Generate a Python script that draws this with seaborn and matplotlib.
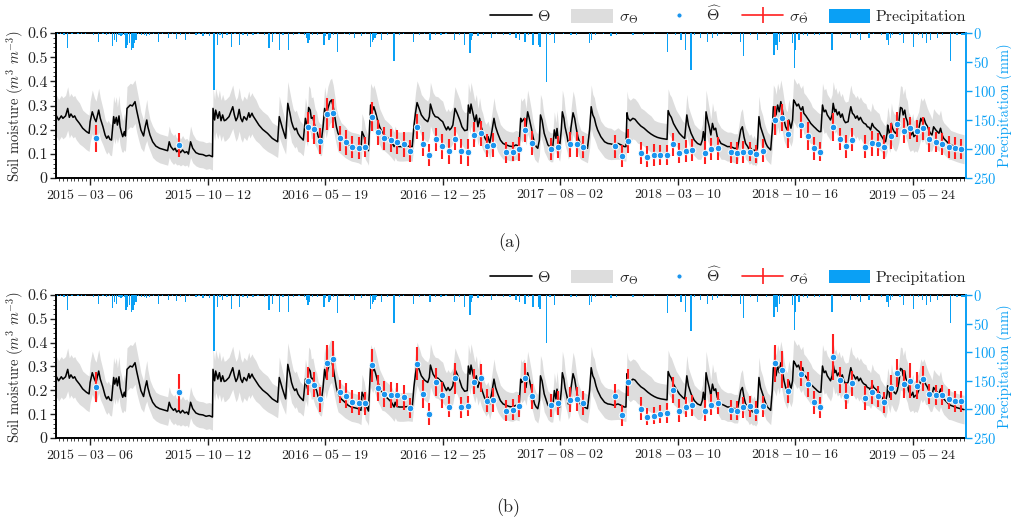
import numpy as np
import pandas as pd
import matplotlib
matplotlib.use("Agg")
import matplotlib.pyplot as plt
import seaborn as sns
from matplotlib.ticker import AutoMinorLocator, FixedLocator, FixedFormatter
from matplotlib.patches import Patch
from matplotlib.lines import Line2D
from matplotlib.mathtext import MathTextParser

# ---------------- data (days counted from 2015-01-01) ----------------
start_date = "2015-01-01"
x_limits = ["2015-01-01", "2019-08-31"]
tick_dates = ["2015-03-06", "2015-10-12", "2016-05-19", "2016-12-25",
              "2017-08-02", "2018-03-10", "2018-10-16", "2019-05-24"]
sm_ticks = [0, 0.1, 0.2, 0.3, 0.4, 0.5, 0.6]
sm_ticklabels = ["0", "0.1", "0.2", "0.3", "0.4", "0.5", "0.6"]
rain_ticks = [0, 50, 100, 150, 200, 250]

# modelled soil moisture (Theta) and its uncertainty band (sigma)
theta_day = [
    0, 5, 10, 13, 18, 22, 25, 28, 32, 35,
    38, 44, 50, 57, 62, 64, 68, 72, 75, 80,
    83, 88, 92, 95, 98, 101, 104, 108, 110, 113,
    115, 118, 120, 123, 125, 128, 130, 133, 136, 139,
    143, 146, 148, 151, 155, 159, 164, 167, 170, 172,
    176, 181, 187, 194, 200, 209, 212, 215, 220, 223,
    226, 230, 233, 237, 241, 245, 248, 252, 256, 262,
    268, 275, 281, 287, 293, 294, 297, 299, 303, 306,
    309, 312, 315, 318, 324, 331, 334, 337, 340, 343,
    346, 349, 352, 357, 361, 363, 367, 369, 374, 380,
    387, 396, 405, 415, 418, 424, 430, 434, 438, 441,
    444, 447, 450, 453, 457, 460, 463, 467, 471, 473,
    476, 478, 481, 485, 488, 491, 494, 497, 500, 503,
    506, 509, 513, 516, 519, 522, 525, 528, 534, 541,
    547, 553, 559, 566, 571, 573, 577, 579, 583, 585,
    589, 593, 595, 598, 602, 606, 610, 615, 622, 628,
    633, 635, 638, 643, 650, 659, 667, 670, 673, 676,
    681, 684, 690, 696, 699, 701, 706, 710, 715, 720,
    724, 728, 731, 734, 737, 740, 743, 747, 751, 756,
    760, 765, 770, 772, 775, 777, 780, 784, 787, 790,
    793, 796, 799, 802, 805, 809, 812, 816, 820, 823,
    827, 832, 837, 843, 849, 855, 861, 867, 870, 872,
    877, 880, 883, 886, 890, 893, 896, 899, 902, 905,
    907, 910, 912, 914, 918, 921, 926, 930, 933, 936,
    938, 941, 943, 946, 948, 951, 953, 957, 959, 962,
    964, 968, 971, 974, 977, 980, 983, 989, 995, 999,
    1002, 1005, 1008, 1011, 1014, 1020, 1027, 1033, 1039, 1045,
    1052, 1058, 1064, 1067, 1069, 1071, 1075, 1080, 1084, 1089,
    1095, 1101, 1108, 1114, 1120, 1126, 1133, 1139, 1144, 1146,
    1149, 1152, 1156, 1161, 1167, 1173, 1177, 1181, 1184, 1189,
    1195, 1201, 1207, 1210, 1212, 1215, 1217, 1220, 1223, 1226,
    1229, 1232, 1235, 1238, 1245, 1251, 1257, 1263, 1270, 1276,
    1282, 1285, 1288, 1291, 1295, 1298, 1301, 1304, 1307, 1310,
    1313, 1316, 1319, 1323, 1326, 1329, 1332, 1335, 1338, 1341,
    1343, 1346, 1348, 1351, 1354, 1357, 1360, 1363, 1366, 1369,
    1372, 1376, 1379, 1381, 1383, 1387, 1390, 1393, 1395, 1398,
    1400, 1404, 1407, 1410, 1413, 1416, 1419, 1422, 1425, 1429,
    1432, 1435, 1438, 1441, 1444, 1447, 1450, 1453, 1455, 1458,
    1460, 1463, 1466, 1469, 1472, 1475, 1478, 1483, 1485, 1488,
    1491, 1494, 1497, 1500, 1503, 1506, 1510, 1513, 1516, 1519,
    1522, 1525, 1528, 1531, 1534, 1537, 1541, 1544, 1547, 1550,
    1553, 1556, 1557, 1559, 1561, 1564, 1566, 1569, 1572, 1575,
    1578, 1581, 1584, 1586, 1589, 1591, 1594, 1596, 1599, 1601,
    1604, 1606, 1609, 1612, 1615, 1619, 1622, 1625, 1628, 1631,
    1634, 1637, 1640, 1643, 1647, 1650, 1653, 1656, 1659, 1662,
    1665, 1668, 1671, 1675, 1681, 1687, 1693, 1700]

theta_val = [
    .261, .240, .257, .247, .257, .288, .251, .265, .251, .257,
    .243, .226, .206, .192, .185, .233, .274, .247, .233, .281,
    .247, .212, .178, .164, .174, .160, .157, .254, .226, .251,
    .219, .257, .212, .185, .171, .192, .174, .288, .295, .302,
    .298, .309, .316, .281, .240, .199, .174, .212, .240, .212,
    .178, .150, .132, .123, .119, .113, .150, .130, .116, .123,
    .109, .116, .105, .116, .105, .109, .099, .150, .123, .105,
    .099, .097, .091, .094, .088, .288, .240, .281, .247, .274,
    .237, .261, .237, .240, .254, .295, .261, .237, .251, .284,
    .247, .233, .254, .240, .270, .251, .268, .257, .240, .219,
    .201, .185, .164, .150, .254, .206, .164, .309, .268, .233,
    .212, .199, .206, .185, .171, .164, .157, .247, .206, .292,
    .281, .247, .251, .212, .199, .171, .160, .157, .212, .288,
    .251, .288, .316, .323, .295, .254, .212, .185, .164, .150,
    .137, .130, .127, .123, .116, .192, .171, .143, .123, .113,
    .302, .281, .295, .274, .240, .212, .192, .178, .164, .150,
    .130, .150, .132, .130, .130, .132, .130, .212, .268, .312,
    .281, .261, .243, .233, .254, .306, .268, .254, .251, .240,
    .233, .212, .199, .212, .199, .206, .219, .288, .268, .240,
    .212, .196, .199, .302, .268, .306, .274, .233, .261, .212,
    .247, .212, .192, .171, .157, .171, .143, .192, .247, .212,
    .185, .157, .143, .137, .132, .130, .137, .132, .247, .233,
    .247, .212, .274, .247, .206, .171, .143, .130, .123, .157,
    .261, .240, .212, .185, .157, .137, .127, .127, .199, .164,
    .205, .143, .130, .199, .274, .247, .212, .171, .143, .157,
    .206, .270, .247, .206, .171, .150, .137, .130, .123, .199,
    .295, .261, .247, .219, .199, .171, .150, .143, .141, .137,
    .143, .137, .130, .130, .270, .247, .237, .247, .243, .229,
    .215, .206, .192, .182, .174, .168, .164, .162, .160, .279,
    .261, .251, .226, .206, .185, .171, .164, .261, .219, .185,
    .157, .143, .137, .157, .192, .150, .274, .240, .212, .178,
    .226, .199, .206, .171, .143, .137, .130, .130, .123, .123,
    .199, .212, .171, .143, .130, .116, .123, .109, .116, .105,
    .123, .254, .212, .185, .164, .143, .130, .123, .116, .199,
    .295, .281, .261, .302, .274, .316, .281, .240, .212, .199,
    .240, .206, .240, .323, .316, .298, .306, .288, .281, .295,
    .268, .257, .247, .237, .226, .219, .212, .206, .199, .192,
    .192, .302, .274, .281, .261, .251, .240, .261, .309, .274,
    .284, .261, .274, .251, .265, .240, .229, .233, .261, .295,
    .268, .261, .247, .257, .240, .251, .233, .226, .223, .212,
    .210, .199, .226, .212, .206, .199, .192, .178, .168, .157,
    .150, .185, .219, .199, .171, .226, .206, .192, .185, .199,
    .233, .292, .288, .261, .281, .251, .233, .199, .185, .178,
    .192, .171, .178, .182, .199, .247, .233, .247, .226, .215,
    .199, .185, .178, .212, .199, .192, .185, .206, .178, .164,
    .157, .150, .143, .137, .132, .127, .123, .119]

theta_sigma = [
    .085, .085, .085, .085, .085, .09, .085, .085, .085, .085,
    .085, .085, .075, .075, .075, .085, .09, .085, .085, .09,
    .085, .075, .065, .065, .065, .065, .065, .085, .085, .085,
    .075, .085, .075, .075, .065, .075, .065, .09, .09, .09,
    .09, .09, .09, .09, .085, .075, .065, .075, .085, .075,
    .065, .065, .06, .06, .06, .06, .065, .06, .06, .06,
    .055, .06, .055, .06, .055, .055, .055, .065, .06, .055,
    .055, .055, .055, .055, .055, .09, .085, .09, .085, .09,
    .085, .085, .085, .085, .085, .09, .085, .085, .085, .09,
    .085, .085, .085, .085, .09, .085, .085, .085, .085, .075,
    .075, .075, .065, .065, .085, .075, .065, .09, .085, .085,
    .075, .075, .075, .075, .065, .065, .065, .085, .075, .09,
    .09, .085, .085, .075, .075, .065, .065, .065, .075, .09,
    .085, .09, .09, .09, .09, .085, .075, .075, .065, .065,
    .06, .06, .06, .06, .06, .075, .065, .065, .06, .06,
    .09, .09, .09, .09, .085, .075, .075, .065, .065, .065,
    .06, .065, .06, .06, .06, .06, .06, .075, .085, .09,
    .09, .085, .085, .085, .085, .09, .085, .085, .085, .085,
    .085, .075, .075, .075, .075, .075, .075, .09, .085, .085,
    .075, .075, .075, .09, .085, .09, .09, .085, .085, .075,
    .085, .075, .075, .065, .065, .065, .065, .075, .085, .075,
    .075, .065, .065, .06, .06, .06, .06, .06, .085, .085,
    .085, .075, .09, .085, .075, .065, .065, .06, .06, .065,
    .085, .085, .075, .075, .065, .06, .06, .06, .075, .065,
    .075, .065, .06, .075, .09, .085, .075, .065, .065, .065,
    .075, .09, .085, .075, .065, .065, .06, .06, .06, .075,
    .09, .085, .085, .075, .075, .065, .065, .065, .065, .06,
    .065, .06, .06, .06, .09, .085, .085, .085, .085, .085,
    .075, .075, .075, .075, .065, .065, .065, .065, .065, .09,
    .085, .085, .085, .075, .075, .065, .065, .085, .075, .075,
    .065, .065, .06, .065, .075, .065, .09, .085, .075, .065,
    .085, .075, .075, .065, .065, .06, .06, .06, .06, .06,
    .075, .075, .065, .065, .06, .06, .06, .055, .06, .055,
    .06, .085, .075, .075, .065, .065, .06, .06, .06, .075,
    .09, .09, .085, .09, .09, .09, .09, .085, .075, .075,
    .085, .075, .085, .09, .09, .09, .09, .09, .09, .09,
    .085, .085, .085, .085, .085, .075, .075, .075, .075, .075,
    .075, .09, .09, .09, .085, .085, .085, .085, .09, .09,
    .09, .085, .09, .085, .085, .085, .085, .085, .085, .09,
    .085, .085, .085, .085, .085, .085, .085, .085, .085, .075,
    .075, .075, .085, .075, .075, .075, .075, .065, .065, .065,
    .065, .075, .075, .075, .065, .085, .075, .075, .075, .075,
    .085, .09, .09, .085, .09, .085, .085, .075, .075, .065,
    .075, .065, .065, .075, .075, .085, .085, .085, .085, .075,
    .075, .075, .065, .075, .075, .075, .075, .075, .065, .065,
    .065, .065, .065, .06, .06, .06, .06, .06]

# retrieved soil moisture (Theta hat), 12-day acquisitions
obs_day = [
    75, 231, 471, 483, 495, 507, 519, 531, 543, 555,
    567, 579, 591, 603, 615, 627, 639, 651, 663, 675,
    687, 699, 711, 723, 735, 747, 759, 771, 783, 795,
    807, 819, 843, 855, 867, 879, 891, 927, 939, 963,
    975, 987, 1047, 1059, 1071, 1095, 1107, 1119, 1131, 1143,
    1155, 1167, 1179, 1191, 1215, 1227, 1239, 1263, 1275, 1287,
    1299, 1311, 1323, 1347, 1359, 1371, 1395, 1407, 1419, 1431,
    1455, 1467, 1479, 1491, 1515, 1527, 1539, 1551, 1563, 1575,
    1587, 1599, 1611, 1623, 1635, 1647, 1659, 1671, 1683, 1695]

obs_val_a = [
    .164, .137, .212, .201, .153, .265, .268, .164, .148, .127,
    .123, .127, .254, .189, .164, .156, .149, .139, .112, .212,
    .141, .095, .161, .131, .110, .163, .110, .106, .179, .185,
    .134, .137, .106, .108, .120, .199, .146, .120, .127, .139,
    .139, .127, .132, .092, .153, .105, .088, .094, .095, .095,
    .139, .102, .112, .116, .105, .120, .123, .106, .102, .109,
    .109, .099, .113, .240, .250, .182, .219, .174, .123, .108,
    .211, .161, .131, .159, .130, .143, .139, .128, .174, .223,
    .196, .207, .193, .206, .161, .149, .142, .128, .123, .121]

obs_sig_a = [
    .055, .050, .062, .059, .052, .066, .059, .052, .052, .046,
    .045, .041, .059, .052, .048, .048, .048, .050, .045, .052,
    .048, .045, .048, .052, .052, .048, .052, .057, .052, .052,
    .048, .050, .045, .039, .050, .050, .050, .045, .045, .050,
    .052, .045, .048, .045, .050, .045, .043, .045, .043, .041,
    .047, .041, .045, .045, .048, .045, .048, .045, .045, .045,
    .038, .038, .048, .060, .057, .059, .055, .057, .047, .039,
    .059, .046, .048, .048, .046, .050, .047, .048, .052, .052,
    .052, .047, .045, .047, .052, .043, .045, .045, .045, .041]

obs_val_b = [
    .215, .194, .238, .224, .162, .316, .330, .194, .177, .152,
    .146, .146, .305, .211, .183, .180, .180, .170, .125, .312,
    .183, .101, .234, .179, .132, .250, .128, .136, .236, .250,
    .157, .160, .114, .119, .134, .252, .175, .137, .147, .161,
    .164, .147, .176, .096, .234, .123, .089, .093, .100, .105,
    .202, .115, .130, .137, .115, .140, .147, .119, .114, .130,
    .133, .114, .133, .313, .287, .197, .269, .226, .150, .128,
    .341, .244, .176, .230, .168, .193, .175, .150, .211, .272,
    .225, .241, .220, .248, .186, .179, .179, .162, .154, .154]

obs_sig_b = [
    .062, .076, .059, .052, .052, .073, .076, .049, .052, .049,
    .049, .049, .069, .055, .055, .055, .049, .052, .042, .069,
    .059, .045, .059, .055, .045, .066, .042, .042, .052, .059,
    .049, .049, .044, .045, .045, .064, .052, .049, .049, .052,
    .049, .051, .052, .044, .057, .049, .036, .036, .037, .042,
    .055, .049, .042, .044, .045, .045, .045, .042, .040, .044,
    .045, .042, .045, .076, .076, .049, .052, .052, .049, .042,
    .097, .055, .055, .052, .049, .049, .045, .045, .052, .059,
    .059, .073, .055, .052, .042, .042, .042, .042, .045, .045]

# daily precipitation (mm): rain events and light showers
rain_day = [
    22, 80, 106, 109, 113, 122, 125, 131, 134, 138,
    141, 144, 147, 150, 166, 170, 192, 211, 226, 243,
    262, 275, 288, 296, 303, 312, 328, 343, 359, 369,
    399, 405, 418, 435, 465, 469, 472, 475, 502, 505,
    511, 514, 527, 559, 572, 589, 592, 594, 597, 610,
    633, 643, 670, 700, 721, 746, 765, 775, 777, 780,
    790, 816, 838, 861, 868, 878, 893, 903, 906, 918,
    933, 964, 999, 1002, 1039, 1080, 1145, 1170, 1179, 1189,
    1207, 1220, 1229, 1238, 1282, 1287, 1313, 1344, 1348, 1351,
    1354, 1379, 1382, 1385, 1391, 1407, 1429, 1453, 1488, 1506,
    1522, 1556, 1559, 1562, 1566, 1587, 1606, 1622, 1630, 1637,
    1650, 1675, 1687, 1696]
rain_mm = [
    26, 15, 22, 12, 15, 6, 3, 26, 21, 18,
    30, 26, 18, 12, 3, 5, 15, 9, 11, 12,
    3, 6, 5, 98, 21, 9, 24, 21, 6, 3,
    26, 15, 29, 30, 3, 9, 17, 12, 21, 6,
    12, 9, 32, 9, 6, 24, 15, 12, 9, 12,
    49, 3, 15, 12, 3, 12, 21, 35, 12, 6,
    6, 9, 3, 9, 12, 15, 21, 21, 24, 84,
    18, 3, 18, 12, 6, 3, 32, 12, 29, 63,
    9, 15, 9, 6, 15, 40, 12, 38, 21, 29,
    15, 18, 61, 29, 12, 6, 3, 29, 9, 12,
    9, 12, 21, 9, 3, 18, 24, 9, 18, 12,
    9, 49, 3, 3]
shower_day = [
    3, 9, 15, 30, 41, 48, 55, 70, 88, 95,
    100, 118, 128, 155, 160, 175, 183, 200, 218, 233,
    250, 268, 280, 307, 320, 335, 350, 378, 390, 410,
    425, 445, 455, 480, 490, 520, 540, 550, 580, 600,
    620, 650, 680, 690, 710, 730, 755, 800, 825, 850,
    885, 925, 950, 975, 1010, 1025, 1050, 1100, 1120, 1160,
    1195, 1250, 1265, 1300, 1330, 1360, 1400, 1420, 1440, 1470,
    1500, 1530, 1545, 1580, 1600, 1615, 1660, 1680, 1700]
shower_mm = [
    2, 1, 3, 2, 1, 2, 1, 3, 2, 4,
    2, 3, 4, 2, 4, 3, 2, 1, 2, 3,
    2, 1, 2, 4, 3, 2, 4, 2, 3, 2,
    4, 3, 2, 4, 3, 4, 2, 3, 2, 4,
    3, 2, 3, 2, 4, 2, 3, 4, 2, 3,
    4, 3, 2, 4, 3, 2, 4, 3, 2, 4,
    3, 2, 4, 3, 4, 3, 4, 3, 2, 4,
    3, 2, 4, 3, 2, 4, 3, 2, 3]

assert len(theta_day) == len(theta_val) == len(theta_sigma)
assert len(obs_day) == len(obs_val_a) == len(obs_sig_a) == len(obs_val_b) == len(obs_sig_b)
assert len(rain_day) == len(rain_mm) and len(shower_day) == len(shower_mm)

# ---------------- style ----------------
sns.set_theme(style="ticks")
plt.rcParams.update({
    "font.family": ["cmr10", "DejaVu Serif"],
    "mathtext.fontset": "cm",
    "axes.formatter.use_mathtext": True,
    "axes.unicode_minus": False,
    "axes.linewidth": 1.2,
    "xtick.color": "#222222",
    "ytick.color": "#222222",
})

BLUE = "#0aa0f5"
DOT = "#1b95ee"
RED = "#ff1f1f"
GREY = "#dddddd"

origin = pd.Timestamp(start_date)
def as_dates(days):
    return origin + pd.to_timedelta(np.asarray(days, dtype=float), unit="D")

t_dates = as_dates(theta_day)
t_val = np.asarray(theta_val)
t_sig = np.asarray(theta_sigma)
o_dates = as_dates(obs_day)
all_rain_dates = as_dates(list(rain_day) + list(shower_day))
all_rain_mm = np.asarray(list(rain_mm) + list(shower_mm), dtype=float)

def mt_ok(s):
    try:
        MathTextParser("path").parse(s)
        return True
    except Exception:
        return False

if mt_ok(r"$\underline{\Theta}$"):
    lab_theta = r"$\underline{\Theta}$"
    lab_sig = r"$\sigma_{\underline{\Theta}}$"
    lab_hat = r"$\underline{\widehat{\Theta}}$"
    lab_sighat = r"$\sigma_{\underline{\hat{\Theta}}}$"
else:
    lab_theta = r"$\Theta$"
    lab_sig = r"$\sigma_{\Theta}$"
    lab_hat = r"$\widehat{\Theta}$"
    lab_sighat = r"$\sigma_{\hat{\Theta}}$"

fig = plt.figure(figsize=(10.12, 5.21), dpi=100)
AX_L, AX_W = 0.0553, 0.8989
ax_a = fig.add_axes([AX_L, 0.6583, AX_W, 0.2784])
ax_b = fig.add_axes([AX_L, 0.1593, AX_W, 0.2745])

def draw_panel(ax, obs_val, obs_sig, legend_y):
    ax.fill_between(t_dates, t_val - t_sig, t_val + t_sig, color=GREY, lw=0, zorder=1)
    sns.lineplot(x=t_dates, y=t_val, ax=ax, color="black", lw=1.1, zorder=3,
                 estimator=None, sort=False)
    ax.errorbar(o_dates, obs_val, yerr=obs_sig, fmt="none", ecolor=RED,
                elinewidth=1.5, capsize=0, zorder=4)
    sns.scatterplot(x=o_dates, y=obs_val, ax=ax, color=DOT, s=22,
                    edgecolor="white", linewidth=0.7, zorder=5)

    ax.set_xlim(pd.Timestamp(x_limits[0]), pd.Timestamp(x_limits[1]))
    ax.set_ylim(0, 0.6)
    ax.yaxis.set_major_locator(FixedLocator(sm_ticks))
    ax.yaxis.set_major_formatter(FixedFormatter(sm_ticklabels))
    ax.yaxis.set_minor_locator(AutoMinorLocator(5))
    tick_nums = matplotlib.dates.date2num(pd.to_datetime(tick_dates))
    ax.xaxis.set_major_locator(FixedLocator(tick_nums))
    ax.xaxis.set_major_formatter(FixedFormatter(["$" + d + "$" for d in tick_dates]))
    ax.xaxis.set_minor_locator(AutoMinorLocator(30))
    ax.tick_params(axis="x", which="major", length=5, width=1.0, labelsize=10, pad=2)
    ax.tick_params(axis="x", which="minor", length=2, width=0.6)
    ax.tick_params(axis="y", which="major", length=4, width=1.0, labelsize=11.5, pad=2)
    ax.tick_params(axis="y", which="minor", length=2, width=0.6)
    ax.set_ylabel(r"Soil moisture ($m^3\ m^{-3}$)", fontsize=10.5)
    ax.yaxis.set_label_coords(-0.033, 0.5)
    ax.set_xlabel("")
    ax.spines["right"].set_visible(False)
    for s in ("left", "bottom", "top"):
        ax.spines[s].set_color("black")
        ax.spines[s].set_linewidth(1.4)
    if ax.get_legend() is not None:
        ax.get_legend().remove()

    ax2 = ax.twinx()
    ax2.bar(all_rain_dates, all_rain_mm, width=2.4, color=BLUE, lw=0, align="center")
    ax2.set_ylim(250, 0)
    ax2.yaxis.set_major_locator(FixedLocator(rain_ticks))
    ax2.tick_params(axis="y", colors=BLUE, labelsize=10.5, length=4, width=1.0, pad=1.5)
    ax2.set_ylabel("Precipitation (mm)", color=BLUE, fontsize=10.5)
    ax2.yaxis.label.set_horizontalalignment("center")
    ax2.yaxis.label.set_verticalalignment("center")
    ax2.yaxis.set_label_coords(1.0435, 0.5)
    for s in ("left", "bottom", "top"):
        ax2.spines[s].set_visible(False)
    ax2.spines["right"].set_color(BLUE)
    ax2.spines["right"].set_linewidth(1.4)
    ax2.grid(False)
    ax.grid(False)

    err_proxy = ax.errorbar([], [], yerr=[], fmt="-", color=RED, ecolor=RED, lw=1.2, elinewidth=1.2)
    handles = [
        Line2D([], [], color="black", lw=1.2),
        Patch(facecolor=GREY, edgecolor="none"),
        Line2D([], [], ls="none", marker="o", markersize=4, color=DOT, markeredgecolor="white"),
        err_proxy,
        Patch(facecolor=BLUE, edgecolor="none"),
    ]
    labels = [lab_theta, lab_sig, lab_hat, lab_sighat, "Precipitation"]
    fig.legend(handles, labels, ncol=5, loc="center right",
               bbox_to_anchor=(0.955, legend_y), frameon=False, fontsize=11.5,
               handlelength=2.6, handleheight=0.9, columnspacing=1.3, handletextpad=0.35,
               borderpad=0.0, borderaxespad=0.0)

draw_panel(ax_a, obs_val_a, obs_sig_a, 0.970)
draw_panel(ax_b, obs_val_b, obs_sig_b, 0.470)

fig.text(0.504, 0.534, "(a)", ha="center", va="center", fontsize=13)
fig.text(0.502, 0.025, "(b)", ha="center", va="center", fontsize=13)

fig.savefig("out.png", dpi=100)
